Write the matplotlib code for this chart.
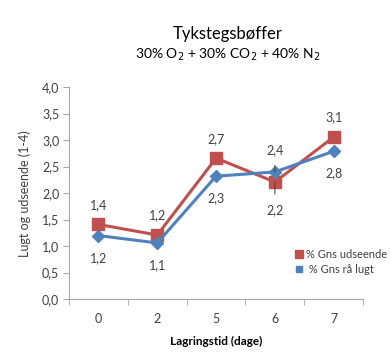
import matplotlib
matplotlib.use("Agg")
import matplotlib.pyplot as plt

plt.rcParams['font.family'] = ['Lato', 'DejaVu Sans']

days = ["0", "2", "5", "6", "7"]
udseende = [1.41, 1.21, 2.66, 2.21, 3.06]
lugt = [1.20, 1.06, 2.32, 2.40, 2.79]
yticks = [0.0, 0.5, 1.0, 1.5, 2.0, 2.5, 3.0, 3.5, 4.0]

red = "#C0504D"
blue = "#4F81BD"
grey = "#A6A6A6"
txt = "#404040"

fig = plt.figure(figsize=(3.9, 3.6), dpi=100)
ax = fig.add_axes([0.177, 0.169, 0.754, 0.589])

x = list(range(len(days)))
ax.plot(x, udseende, color=red, lw=2.2, marker="s", ms=8, label="% Gns udseende", zorder=3)
ax.plot(x, lugt, color=blue, lw=2.2, marker="D", ms=6, label=" % Gns rå lugt", zorder=3)

def fmt(v):
    return f"{v:.1f}".replace(".", ",")

# value labels: appearance above, odour below (swapped at day 6)
for i, (r, b) in enumerate(zip(udseende, lugt)):
    if i == 3:
        ax.annotate(fmt(r), (i, r), xytext=(0, -20), textcoords="offset points",
                    ha="center", va="center", fontsize=9, color=txt,
                    arrowprops=dict(arrowstyle="-", color=txt, lw=0.7, shrinkA=5, shrinkB=0))
        ax.annotate(fmt(b), (i, b), xytext=(0, 16), textcoords="offset points",
                    ha="center", va="center", fontsize=9, color=txt,
                    arrowprops=dict(arrowstyle="-", color=txt, lw=0.7, shrinkA=5, shrinkB=0))
    else:
        ax.annotate(fmt(r), (i, r), xytext=(0, 14), textcoords="offset points",
                    ha="center", va="center", fontsize=9, color=txt)
        ax.annotate(fmt(b), (i, b), xytext=(0, -16), textcoords="offset points",
                    ha="center", va="center", fontsize=9, color=txt)

ax.set_xlim(-0.5, len(days) - 0.5)
ax.set_ylim(0, 4.0)
ax.set_yticks(yticks)
ax.set_yticklabels([fmt(v) for v in yticks], fontsize=9, color=txt)
ax.set_xticks(x)
ax.set_xticklabels(days, fontsize=9, color=txt)
ax.tick_params(axis="x", length=0, pad=10)
ax.set_xticks([i - 0.5 for i in range(len(days) + 1)], minor=True)
ax.tick_params(axis="x", which="minor", length=4, color=grey, direction="out")
ax.tick_params(axis="y", length=4, color=grey, direction="out", pad=3)

for s in ["top", "right"]:
    ax.spines[s].set_visible(False)
for s in ["left", "bottom"]:
    ax.spines[s].set_color(grey)
    ax.spines[s].set_linewidth(0.8)

ax.set_xlabel("Lagringstid (dage)", fontsize=8.5, fontweight="bold", color="black", labelpad=8)
ax.set_ylabel("Lugt og udseende (1-4)", fontsize=9, color=txt, labelpad=8)

fig.text(0.585, 0.905, "Tykstegsbøffer", ha="center", va="center", fontsize=12, color="black")
fig.text(0.585, 0.848, "30% O$_2$ + 30% CO$_2$ + 40% N$_2$", ha="center", va="center",
         fontsize=10, color="black")

leg = ax.legend(loc="lower right", bbox_to_anchor=(1.115, 0.065), frameon=False, fontsize=8,
                handlelength=0.6, handletextpad=0.3, labelspacing=0.4,
                markerscale=0.75)
for h in leg.legend_handles:
    h.set_linestyle("")
    h.set_marker("s")
for t in leg.get_texts():
    t.set_color(txt)

fig.savefig("out.png", dpi=100)
